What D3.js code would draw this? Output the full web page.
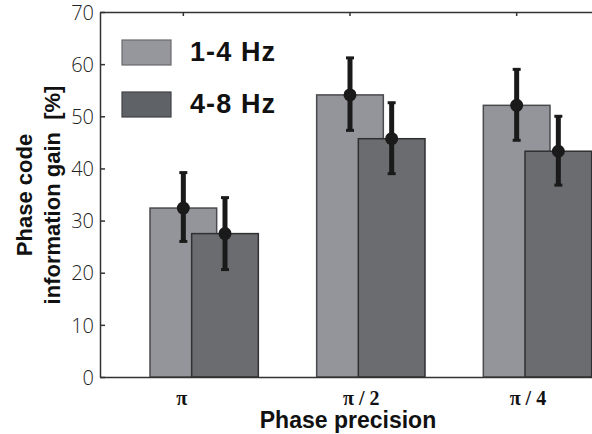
<!DOCTYPE html>
<html>
<head>
<meta charset="utf-8">
<script src="https://cdn.jsdelivr.net/npm/d3@7"></script>
<style>
  body { margin: 0; background: #fff; }
  svg { display: block; }
</style>
</head>
<body>
<div id="chart"></div>
<script>
// values
var categories = ["π", "π / 2", "π / 4"];
var series = ["1-4 Hz", "4-8 Hz"];
var gain14 = [32.4, 54.1, 52.1];
var gain48 = [27.5, 45.7, 43.3];
var lo14 = [26.0, 47.3, 45.4];
var hi14 = [39.2, 61.2, 59.0];
var lo48 = [20.6, 39.0, 36.8];
var hi48 = [34.4, 52.6, 50.0];
var yTicks = [0, 10, 20, 30, 40, 50, 60, 70];

var W = 592, H = 434;
var colors = ["#94959a", "#6a6c70"];
var strokes = ["#4a4a4e", "#303033"];

var svg = d3.select("#chart").append("svg")
    .attr("width", W).attr("height", H);

var x = d3.scaleBand().domain(categories).range([100, 600]).padding(0);
var y = d3.scaleLinear().domain([0, 70]).range([377, 12]);
var step = x.bandwidth();
var barW = step * 0.4;
var offsets = [0, step * 0.25];

var rows = [];
categories.forEach(function(c, i){
    rows.push({cat: c, s: 0, v: gain14[i], lo: lo14[i], hi: hi14[i]});
    rows.push({cat: c, s: 1, v: gain48[i], lo: lo48[i], hi: hi48[i]});
});
function cx(d){ return x(d.cat) + step / 2 + offsets[d.s]; }

// bars (light first, dark on top)
svg.append("g").selectAll("rect")
    .data(rows.filter(function(d){ return d.s == 0; }).concat(rows.filter(function(d){ return d.s == 1; })))
    .enter().append("rect")
    .attr("x", function(d){ return cx(d) - barW / 2; })
    .attr("y", function(d){ return y(d.v); })
    .attr("width", barW)
    .attr("height", function(d){ return y(0) - y(d.v); })
    .attr("fill", function(d){ return colors[d.s]; })
    .attr("stroke", function(d){ return strokes[d.s]; })
    .attr("stroke-width", 1.5);

// axes
var left = svg.append("g").attr("transform", "translate(100,0)")
    .call(d3.axisLeft(y).tickValues(yTicks).tickSizeInner(-5).tickSizeOuter(0).tickPadding(6));
left.selectAll("text").style("font-family", "'Open Sans', sans-serif")
    .style("font-size", "20px").style("font-weight", 300).attr("fill", "#222").attr("dy", "0.36em");

var top = svg.append("g").attr("transform", "translate(0,12)")
    .call(d3.axisTop(x).tickSizeInner(-4).tickSizeOuter(0).tickFormat(""));

var bottom = svg.append("g").attr("transform", "translate(0,377)")
    .call(d3.axisBottom(x).tickSize(0));
bottom.selectAll("text")
    .attr("y", 28).attr("dy", 0).attr("dx", -7)
    .attr("text-anchor", "start")
    .style("font-family", "'Liberation Serif', serif")
    .style("font-size", "20px").style("font-weight", "bold").attr("fill", "#111");

svg.selectAll(".domain, .tick line").attr("stroke", "#333").attr("stroke-width", 1.5);

// error bars
var eb = svg.append("g");
eb.selectAll("line.err").data(rows).enter().append("line")
    .attr("x1", cx).attr("x2", cx)
    .attr("y1", function(d){ return y(d.lo); })
    .attr("y2", function(d){ return y(d.hi); })
    .attr("stroke", "#1a1a1a").attr("stroke-width", 5);
eb.selectAll("line.cap").data(rows.flatMap(function(d){ return [{d: d, v: d.lo}, {d: d, v: d.hi}]; }))
    .enter().append("line")
    .attr("x1", function(e){ return cx(e.d) - 4; })
    .attr("x2", function(e){ return cx(e.d) + 4; })
    .attr("y1", function(e){ return y(e.v); })
    .attr("y2", function(e){ return y(e.v); })
    .attr("stroke", "#1a1a1a").attr("stroke-width", 3);
eb.selectAll("circle").data(rows).enter().append("circle")
    .attr("cx", cx).attr("cy", function(d){ return y(d.v); })
    .attr("r", 6.5).attr("fill", "#1a1a1a");

// legend
var leg = svg.append("g").selectAll("g").data(series).enter().append("g")
    .attr("transform", function(d, i){ return "translate(122," + (40 + i * 52) + ")"; });
leg.append("rect").attr("width", 49).attr("height", 25)
    .attr("fill", function(d, i){ return i == 0 ? "#96979c" : "#5f6266"; })
    .attr("stroke", function(d, i){ return i == 0 ? "#6a6a6e" : "#404244"; })
    .attr("stroke-width", 1.2);
leg.append("text").attr("x", 68).attr("y", 21)
    .text(function(d){ return d; })
    .attr("textLength", 85)
    .style("font-family", "'Liberation Sans', Arial, sans-serif")
    .style("font-size", "27px").style("font-weight", "bold").attr("fill", "#111");

// axis titles
svg.append("text").attr("x", 348).attr("y", 428).attr("text-anchor", "middle")
    .text("Phase precision")
    .style("font-family", "'Liberation Sans', Arial, sans-serif")
    .style("font-size", "23px").style("font-weight", "bold").attr("fill", "#111");

var yl = svg.append("text").attr("transform", "translate(0,195) rotate(-90)")
    .attr("text-anchor", "middle")
    .style("font-family", "'Liberation Sans', Arial, sans-serif")
    .style("font-size", "22px").style("font-weight", "bold").attr("fill", "#111");
yl.append("tspan").attr("x", 0).attr("y", 32).text("Phase code");
yl.append("tspan").attr("x", 0).attr("y", 60).attr("xml:space", "preserve").text("information gain\u00a0\u00a0[%]");
</script>
</body>
</html>
